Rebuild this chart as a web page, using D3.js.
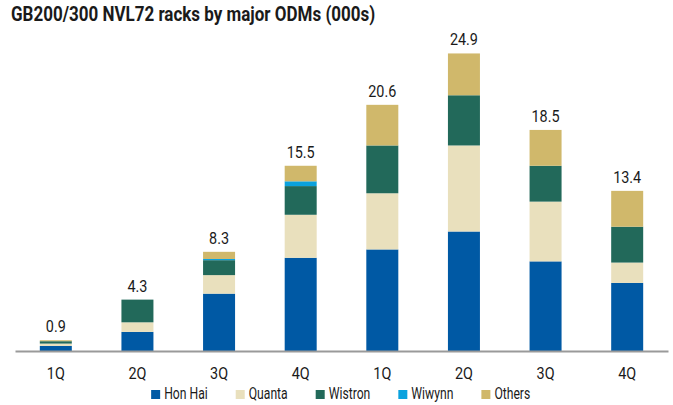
<!DOCTYPE html>
<html>
<head>
<meta charset="utf-8">
<script src="https://cdn.jsdelivr.net/npm/d3@7"></script>
<style>
  body { margin: 0; background: #fff; }
  text { font-family: Roboto, "Noto Sans", sans-serif; fill: #1a1a1a; }
</style>
</head>
<body>
<script>
const width = 673;
const height = 405;

// values in thousands of racks
const quarters = ["1Q", "2Q", "3Q", "4Q", "1Q", "2Q", "3Q", "4Q"];
const honHai  = [0.42, 1.6, 4.8, 7.8, 8.5, 10.0, 7.5, 5.7];
const quanta  = [0.2, 0.8, 1.55, 3.6, 4.7, 7.2, 5.0, 1.7];
const wistron = [0.2, 1.9, 1.25, 2.4, 4.0, 4.2, 3.0, 3.0];
const wiwynn  = [0, 0, 0.1, 0.4, 0, 0, 0, 0];
const others  = [0.08, 0, 0.6, 1.3, 3.4, 3.5, 3.0, 3.0];
const totals  = [0.9, 4.3, 8.3, 15.5, 20.6, 24.9, 18.5, 13.4];

const seriesNames = ["Hon Hai", "Quanta", "Wistron", "Wiwynn", "Others"];
const seriesColors = ["#0059a4", "#e9e0bd", "#22695a", "#0aa2de", "#d0b86b"];

const rows = quarters.map((q, i) => ({
  idx: i,
  "Hon Hai": honHai[i],
  "Quanta": quanta[i],
  "Wistron": wistron[i],
  "Wiwynn": wiwynn[i],
  "Others": others[i]
}));

const svg = d3.select("body")
  .append("svg")
  .attr("width", width)
  .attr("height", height);

const x = d3.scaleBand()
  .domain(d3.range(quarters.length))
  .range([15, 668])
  .paddingInner(0.608)
  .paddingOuter(0.304);

const baseY = 351;
const y = d3.scaleLinear()
  .domain([0, 25])
  .range([baseY, baseY - 25 * 11.95]);

const color = d3.scaleOrdinal().domain(seriesNames).range(seriesColors);

const stacked = d3.stack().keys(seriesNames)(rows);

// condensed text helper
function label(sel, txt, xx, yy, size, sx, anchor, weight) {
  return sel.append("text")
    .attr("transform", `translate(${xx},${yy}) scale(${sx},1)`)
    .attr("text-anchor", anchor || "middle")
    .style("font-size", size + "px")
    .style("font-weight", weight || 400)
    .text(txt);
}

// title
label(svg, "GB200/300 NVL72 racks by major ODMs (000s)", 11, 21, 20, 0.85, "start", 700);

// bars
svg.append("g")
  .selectAll("g")
  .data(stacked)
  .join("g")
  .attr("fill", d => color(d.key))
  .selectAll("rect")
  .data(d => d)
  .join("rect")
  .attr("x", d => x(d.data.idx))
  .attr("width", x.bandwidth())
  .attr("y", d => y(d[1]))
  .attr("height", d => y(d[0]) - y(d[1]));

// totals above bars
const totalG = svg.append("g");
totals.forEach((t, i) => {
  label(totalG, t.toFixed(1), x(i) + x.bandwidth() / 2, y(t) - 8, 16, 0.9);
});

// axis baseline
const xAxis = d3.axisBottom(x)
  .tickSize(0)
  .tickPadding(0)
  .tickFormat(i => quarters[i]);

const axisG = svg.append("g")
  .attr("transform", `translate(0,${baseY})`)
  .call(xAxis);
axisG.select(".domain")
  .attr("stroke", "#9a9a9a")
  .attr("stroke-width", 2);
axisG.selectAll(".tick text").remove();
axisG.selectAll(".tick").each(function(i) {
  label(d3.select(this), quarters[i], 0, 28, 16, 0.9);
});

// legend
const legend = svg.append("g");
const items = [];
let cursor = 0;
seriesNames.forEach(name => {
  const g = legend.append("g").attr("transform", `translate(${cursor},0)`);
  g.append("rect")
    .attr("x", 0)
    .attr("y", -8)
    .attr("width", 9)
    .attr("height", 9)
    .attr("fill", color(name));
  const t = label(g, name, 13, 1, 16, 0.76, "start");
  const w = t.node().getComputedTextLength() * 0.76;
  cursor += 13 + w + 28;
});
const legendWidth = cursor - 28;
legend.attr("transform", `translate(${340.7 - legendWidth / 2},398)`);
</script>
</body>
</html>
